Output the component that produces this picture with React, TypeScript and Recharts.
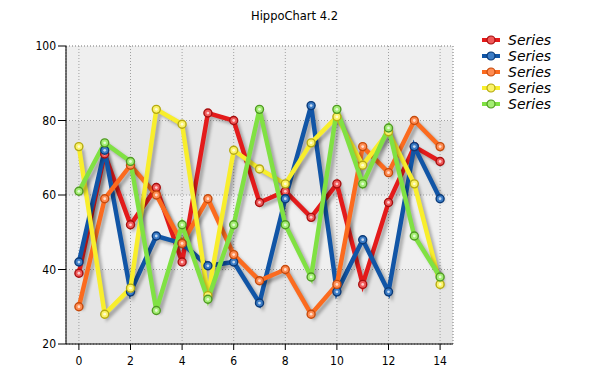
import React from "react";
import {
  LineChart,
  Line,
  XAxis,
  YAxis,
  CartesianGrid,
  ReferenceArea,
} from "recharts";

const X_VALUES = [0, 1, 2, 3, 4, 5, 6, 7, 8, 9, 10, 11, 12, 13, 14];
const RED = [39, 71, 52, 62, 42, 82, 80, 58, 61, 54, 63, 36, 58, 73, 69];
const BLUE = [42, 72, 34, 49, 47, 41, 42, 31, 59, 84, 34, 48, 34, 73, 59];
const ORANGE = [30, 59, 68, 60, 47, 59, 44, 37, 40, 28, 36, 73, 66, 80, 73];
const YELLOW = [73, 28, 35, 83, 79, 33, 72, 67, 63, 74, 81, 68, 77, 63, 36];
const GREEN = [61, 74, 69, 29, 52, 32, 52, 83, 52, 38, 83, 63, 78, 49, 38];

const X_TICKS = [0, 2, 4, 6, 8, 10, 12, 14];
const Y_TICKS = [20, 40, 60, 80, 100];
const SERIES_NAMES = ["Series", "Series", "Series", "Series", "Series"];

const SERIES = [
  { key: "s0", values: RED, line: "#e31b1b", dot: "#f05a5a", edge: "#a80e0e" },
  { key: "s1", values: BLUE, line: "#1155a6", dot: "#3b7cc6", edge: "#0a3a78" },
  { key: "s2", values: ORANGE, line: "#fb6b1f", dot: "#ff8c52", edge: "#c64a0c" },
  { key: "s3", values: YELLOW, line: "#f8ee2c", dot: "#fbf36a", edge: "#b5aa10" },
  { key: "s4", values: GREEN, line: "#80e143", dot: "#a3ee73", edge: "#4f9a22" },
];

const data = X_VALUES.map((x, i) => {
  const row: Record<string, number> = { x };
  SERIES.forEach((s) => (row[s.key] = s.values[i]));
  return row;
});

const FONT = "'DejaVu Sans Condensed', 'Liberation Sans', sans-serif";

function makeDot(fill: string, edge: string) {
  return (props: any) => {
    const { cx, cy, index } = props;
    if (cx == null || cy == null) return null;
    return (
      <g key={index}>
        <circle cx={cx} cy={cy} r={4} fill={fill} stroke={edge} strokeWidth={1.4} />
        <circle cx={cx} cy={cy} r={1.4} fill="#ffffff" opacity={0.7} />
      </g>
    );
  };
}

function LegendBox() {
  return (
    <div style={{ position: "absolute", left: 480, top: 32 }}>
      {SERIES.map((s, i) => (
        <div key={s.key} style={{ display: "flex", alignItems: "center", height: 16 }}>
          <svg width={26} height={16}>
            <line x1={2} y1={8} x2={20} y2={8} stroke={s.line} strokeWidth={4} />
            <circle cx={11} cy={8} r={4} fill={s.dot} stroke={s.edge} strokeWidth={1.2} />
          </svg>
          <span
            style={{
              fontFamily: "'DejaVu Sans', sans-serif",
              fontStyle: "italic",
              fontSize: 14,
              color: "#000",
              lineHeight: "16px",
              marginLeft: 2,
            }}
          >
            {SERIES_NAMES[i]}
          </span>
        </div>
      ))}
    </div>
  );
}

export default function App() {
  return (
    <div style={{ position: "absolute", left: 0, top: 0, width: 589, height: 391, background: "#fff" }}>
      <style>{`.recharts-line-curve { filter: drop-shadow(3px 3px 1.5px rgba(0,0,0,0.28)); }`}</style>
      <div
        style={{
          position: "absolute",
          left: 0,
          top: 9,
          width: 589,
          textAlign: "center",
          fontFamily: "'DejaVu Sans', sans-serif",
          fontSize: 11.5,
          color: "#000",
        }}
      >
        HippoChart 4.2
      </div>
      <LineChart
        width={589}
        height={391}
        data={data}
        margin={{ top: 46, right: 136, left: 0, bottom: 27 }}
      >
        <CartesianGrid
          stroke="#a0a0a0"
          strokeDasharray="1 2"
          horizontalFill={["#efefef", "#e5e5e5"]}
          fillOpacity={1}
        />
        <ReferenceArea
          y1={20}
          y2={100}
          x1={-0.5}
          x2={14.5}
          fill="none"
          stroke="#a0a0a0"
          strokeDasharray="1 2"
        />
        <XAxis
          type="number"
          dataKey="x"
          domain={[-0.5, 14.5]}
          ticks={X_TICKS}
          interval={0}
          height={20}
          tickSize={6}
          tickMargin={6}
          axisLine={{ stroke: "#000" }}
          tickLine={{ stroke: "#000" }}
          tick={{ fontSize: 12, fill: "#000", fontFamily: FONT }}
        />
        <YAxis
          type="number"
          domain={[20, 100]}
          ticks={Y_TICKS}
          interval={0}
          width={66}
          tickSize={8}
          tickMargin={2}
          axisLine={{ stroke: "#000" }}
          tickLine={{ stroke: "#000" }}
          tick={{ fontSize: 12, fill: "#000", fontFamily: FONT }}
        />
        {SERIES.map((s, i) => (
          <Line
            key={s.key}
            dataKey={s.key}
            name={SERIES_NAMES[i]}
            type="linear"
            stroke={s.line}
            strokeWidth={4.5}
            dot={makeDot(s.dot, s.edge)}
            activeDot={false}
            isAnimationActive={false}
          />
        ))}
      </LineChart>
      <LegendBox />
    </div>
  );
}
